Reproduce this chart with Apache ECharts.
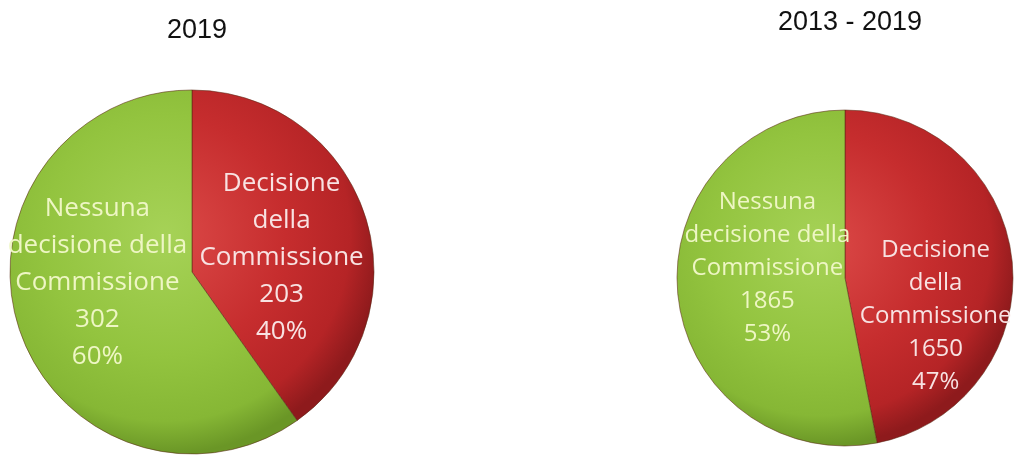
<!DOCTYPE html>
<html>
<head>
<meta charset="utf-8">
<script src="https://cdn.jsdelivr.net/npm/echarts@6/dist/echarts.min.js"></script>
<style>
html,body{margin:0;padding:0;background:#fff;}
#chart{width:1021px;height:459px;}
</style>
</head>
<body>
<div id="chart"></div>
<script>
// ---- data ----
const categories = ['Decisione della Commissione', 'Nessuna decisione della Commissione'];
const labelLines = ['Decisione\ndella\nCommissione', 'Nessuna\ndecisione della\nCommissione'];
const titles = ['2019', '2013 - 2019'];
const values2019 = [203, 302];
const values2013_2019 = [1650, 1865];

// ---- styles ----
function radial(cx, cy, r, stops) {
  return {type: 'radial', x: cx, y: cy, r: r, global: true,
    colorStops: stops.map(s => ({offset: s[0], color: s[1]}))};
}
function redFill(cx, cy, r) {
  return radial(cx - r*0.15, cy - r*0.2, r*1.2, [[0, '#dc4a48'], [0.55, '#c62d2e'], [0.85, '#b52426'], [1, '#8e1a1c']]);
}
function greenFill(cx, cy, r) {
  return radial(cx - r*0.15, cy - r*0.2, r*1.2, [[0, '#a6d257'], [0.55, '#93c43f'], [0.85, '#86b735'], [1, '#6a9626']]);
}
const labelColors = ['#f8e2e2', '#eef6c4'];

function buildSeries(values, center, radius, fontSize, lineHeight, offsets) {
  const [cx, cy] = center;
  return {
    type: 'pie',
    center: center,
    radius: radius,
    startAngle: 90,
    clockwise: true,
    percentPrecision: 0,
    silent: true,
    label: {
      position: 'inside',
      fontFamily: 'Open Sans',
      fontSize: fontSize,
      lineHeight: lineHeight,
      align: 'center',
      formatter: p => labelLines[p.dataIndex] + '\n' + p.value + '\n' + p.percent + '%'
    },
    labelLine: {show: false},
    itemStyle: {borderColor: 'rgba(90,40,20,0.55)', borderWidth: 1},
    data: categories.map((name, i) => ({
      name: name,
      value: values[i],
      itemStyle: {color: i === 0 ? redFill(cx, cy, radius) : greenFill(cx, cy, radius)},
      label: {color: labelColors[i], offset: offsets[i]}
    }))
  };
}

const chart = echarts.init(document.getElementById('chart'), null, {renderer: 'canvas'});
chart.setOption({
  animation: false,
  title: [
    {text: titles[0], left: 192, top: 12, textAlign: 'center',
     textStyle: {fontFamily: 'Liberation Sans', fontSize: 27, fontWeight: 'normal', color: '#111'}},
    {text: titles[1], left: 845, top: 4, textAlign: 'center',
     textStyle: {fontFamily: 'Liberation Sans', fontSize: 27, fontWeight: 'normal', color: '#111'}}
  ],
  series: [
    buildSeries(values2019, [192, 272], 182, 26, 37, [[0, 14], [-5, -18]]),
    buildSeries(values2013_2019, [845, 278], 168, 24, 33, [[4, 47], [9, -18]])
  ]
});
</script>
</body>
</html>
